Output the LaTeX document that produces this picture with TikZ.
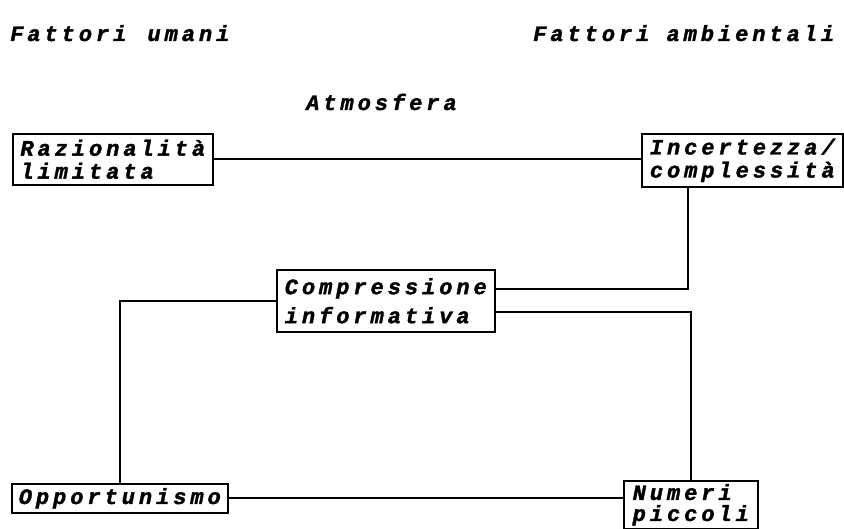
\documentclass[tikz,border=0pt]{standalone}
\usepackage{fontspec}
\setmainfont{Liberation Mono}[LetterSpace=18,BoldItalicFeatures={FakeBold=1.6}]
\begin{document}
\begin{tikzpicture}[x=1pt,y=-1pt,
  txt/.style={font=\fontsize{22}{23}\selectfont\bfseries\itshape},
  title/.style={txt,inner sep=0pt,anchor=base west},
  box/.style={txt,draw,line width=1.6pt,align=left,anchor=north west,inner xsep=3pt,inner ysep=1pt},
  link/.style={line width=2pt}]
\useasboundingbox (0,0) rectangle (844,529);
\node[title] (fu) at (10,41) {Fattori\hspace{4pt} umani};
\node[title] (fa) at (533,41) {Fattori ambientali};
\node[title] (atm) at (306,110) {Atmosfera};
\node[box,minimum width=200pt,minimum height=51pt] (raz) at (12,133) {Razionalità\\limitata};
\node[box,minimum width=201pt,minimum height=53pt] (inc) at (641,133) {Incertezza/\\complessità};
\node[box,minimum width=218pt,minimum height=62pt,inner xsep=6pt,font=\fontsize{22}{29}\selectfont\bfseries\itshape] (comp) at (276,269) {Compressione\\informativa};
\node[box,minimum width=216pt,minimum height=29pt] (opp) at (11,483) {Opportunismo};
\node[box,minimum width=134pt,minimum height=48pt,inner ysep=0pt,font=\fontsize{22}{21}\selectfont\bfseries\itshape] (num) at (623,480) {Numeri\\piccoli};
\coordinate (c1) at (688,289);
\coordinate (c2) at (690,312);
\draw[link] (raz.east) -- (raz.east -| inc.west);
\draw[link] (c1 |- inc.south) -- (c1) -- (c1 -| comp.east);
\draw[link] (comp.west) -| (opp.north);
\draw[link] (c2 -| comp.east) -| (num.north);
\draw[link] (opp.east) -- (opp.east -| num.west);
\end{tikzpicture}
\end{document}
